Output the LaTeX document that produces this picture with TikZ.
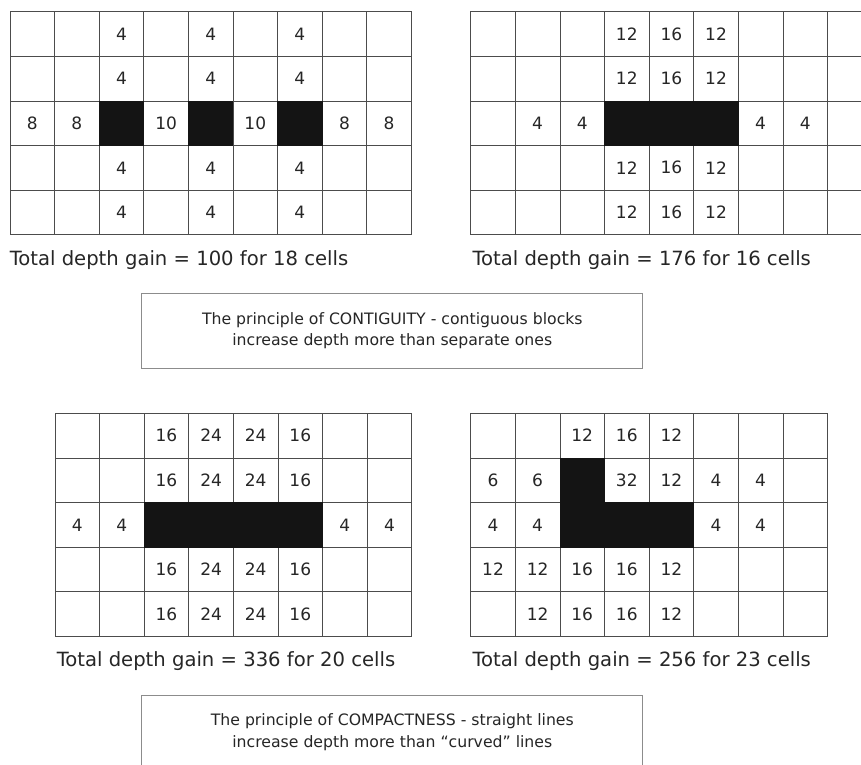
\documentclass[tikz,border=0pt]{standalone}
\usepackage{fontspec}
\setmainfont{DejaVu Sans}
\usepackage{tikz}
\usetikzlibrary{positioning}

\newcommand{\depthgrid}[4]{%
  \foreach \rw [count=\ri] in {#4} {
    \foreach \v [count=\ci] in \rw {
      \node[cell] (#1-\ri-\ci) at ({#2+(\ci-0.5)*44.6},{#3+(\ri-0.5)*44.6}) {\v};
    }
  }
}

\begin{document}
\begin{tikzpicture}[x=1pt,y=-1pt,
    cell/.style={draw=black!70, line width=0.8pt, minimum size=44.6pt, inner sep=0pt,
      text=black!85, font=\fontsize{17}{17}\selectfont},
    block/.style={fill=black!92},
    gain/.style={inner sep=0pt, text=black!85, font=\fontsize{19.6}{19.6}\selectfont},
    principle/.style={draw=black!45, line width=0.8pt, minimum width=501pt, minimum height=74.7pt,
      align=center, text=black!85, font=\fontsize{15.7}{21.5}\selectfont}]
  \clip (0,0) rectangle (861,764);
  \fill[white] (0,0) rectangle (861,764);

  \depthgrid{A}{10}{11.7}{{{},{},4,{},4,{},4,{},{}},{{},{},4,{},4,{},4,{},{}},
    {8,8,{},10,{},10,{},8,8},{{},{},4,{},4,{},4,{},{}},{{},{},4,{},4,{},4,{},{}}}
  \depthgrid{B}{470.7}{11.7}{{{},{},{},12,16,12,{},{},{}},{{},{},{},12,16,12,{},{},{}},
    {{},4,4,{},{},{},4,4,{}},{{},{},{},12,16,12,{},{},{}},{{},{},{},12,16,12,{},{},{}}}
  \depthgrid{C}{55}{413.3}{{{},{},16,24,24,16,{},{}},{{},{},16,24,24,16,{},{}},
    {4,4,{},{},{},{},4,4},{{},{},16,24,24,16,{},{}},{{},{},16,24,24,16,{},{}}}
  \depthgrid{D}{470.7}{413.3}{{{},{},12,16,12,{},{},{}},{6,6,{},32,12,4,4,{}},
    {4,4,{},{},{},4,4,{}},{12,12,16,16,12,{},{},{}},{{},12,16,16,12,{},{},{}}}

  \fill[block] (A-3-3.north west) rectangle (A-3-3.south east);
  \fill[block] (A-3-5.north west) rectangle (A-3-5.south east);
  \fill[block] (A-3-7.north west) rectangle (A-3-7.south east);
  \fill[block] (B-3-4.north west) rectangle (B-3-6.south east);
  \fill[block] (C-3-3.north west) rectangle (C-3-6.south east);
  \fill[block] (D-2-3.north west) rectangle (D-3-3.south east);
  \fill[block] (D-3-3.north west) rectangle (D-3-5.south east);

  \node[gain, anchor=base west] (gainA) at ([yshift=-30pt]A-5-1.south west) {Total depth gain = 100 for 18 cells};
  \node[gain, anchor=base west] (gainB) at ([xshift=2pt,yshift=-30pt]B-5-1.south west) {Total depth gain = 176 for 16 cells};
  \node[gain, anchor=base west] (gainC) at ([xshift=2pt,yshift=-30pt]C-5-1.south west) {Total depth gain = 336 for 20 cells};
  \node[gain, anchor=base west] (gainD) at ([xshift=2pt,yshift=-30pt]D-5-1.south west) {Total depth gain = 256 for 23 cells};

  \node[principle] (contiguity) at (392.3,330.7)
    {The principle of CONTIGUITY - contiguous blocks\\increase depth more than separate ones};
  \node[principle] (compactness) at (392.3,732.3)
    {The principle of COMPACTNESS - straight lines\\increase depth more than “curved” lines};
\end{tikzpicture}
\end{document}
